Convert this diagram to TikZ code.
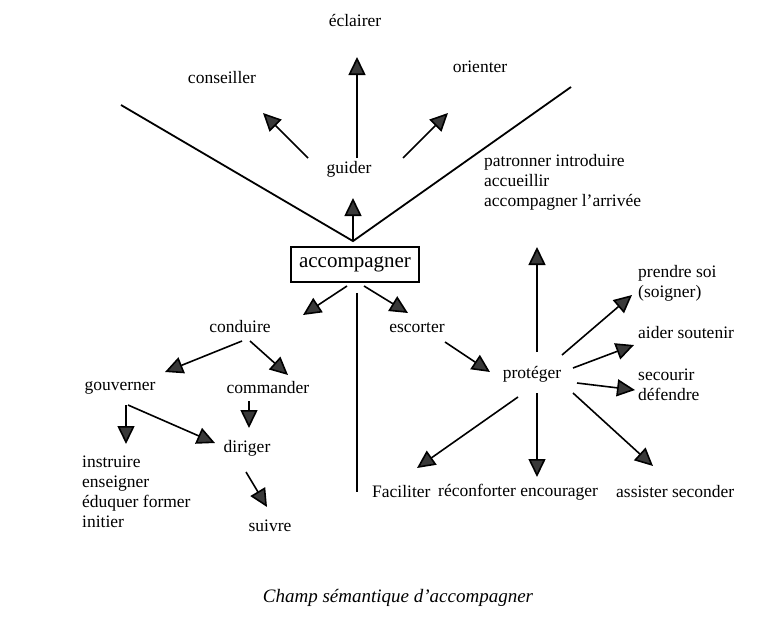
\documentclass[tikz,border=0pt]{standalone}
\usepackage{fontspec}
\setmainfont{Liberation Serif}
\usepackage{tikz}
\usetikzlibrary{positioning, arrows.meta}

\begin{document}
\begin{tikzpicture}[x=1pt, y=-1pt,
                lbl/.style={inner sep=1pt, font=\fontsize{17.5}{20}\selectfont},
                boite/.style={draw, line width=1.8pt, minimum width=128pt, minimum height=35pt, inner sep=0pt, font=\fontsize{21}{24}\selectfont},
                arr/.style={line width=1.6pt, -{Triangle[length=18pt, width=17pt, fill=gray!45!black]}},
                trait/.style={line width=1.8pt}]
                \useasboundingbox (0, 0) rectangle (784, 619);

                \node[boite] (acc) at (355, 264.5) {accompagner};
                \node[lbl] (eclairer) at (355, 20) {éclairer};
                \node[lbl] (conseiller) at (222, 78) {conseiller};
                \node[lbl] (orienter) at (480, 67) {orienter};
                \node[lbl] (guider) at (349, 169) {guider};
                \node[lbl, align=left, anchor=west] (patronner) at (483, 182) {patronner introduire\\accueillir\\accompagner l'arrivée};
                \node[lbl] (conduire) at (240, 327) {conduire};
                \node[lbl] (escorter) at (417, 328) {escorter};
                \node[lbl] (gouverner) at (120, 388) {gouverner};
                \node[lbl] (commander) at (268, 388) {commander};
                \node[lbl] (diriger) at (247, 448) {diriger};
                \node[lbl] (suivre) at (270, 526) {suivre};
                \node[lbl, align=left, anchor=west] (instruire) at (81, 492) {instruire\\enseigner\\éduquer former\\initier};
                \node[lbl] (proteger) at (532, 374) {protéger};
                \node[lbl, align=left, anchor=west] (prendre) at (637, 283) {prendre soi\\(soigner)};
                \node[lbl, anchor=west] (aider) at (637, 333) {aider soutenir};
                \node[lbl, align=left, anchor=west] (secourir) at (637, 385) {secourir\\défendre};
                \node[lbl, anchor=west] (faciliter) at (371, 492) {Faciliter};
                \node[lbl, anchor=west] (reconforter) at (437, 492) {réconforter encourager};
                \node[lbl, anchor=west] (assister) at (615, 492) {assister seconder};
                \node[font=\fontsize{19}{22}\selectfont\itshape] (titre) at (398, 598) {Champ sémantique d'accompagner};

                \coordinate (sommet) at ([shift={(-2, -5)}]acc.north);
                \coordinate (vgauche) at (121, 105);
                \coordinate (vdroite) at (571, 87);
                \coordinate (bas) at (357, 492);

                \draw[trait] (vgauche) -- (sommet) -- (vdroite);
                \draw[trait] ([shift={(2, 10)}]acc.south) -- (bas);
                \draw[arr] (sommet) -- ([shift={(4, 29)}]guider.center);
                \draw[arr] ([shift={(8, -11)}]guider.center) -- ([shift={(2, 37)}]eclairer.center);
                \draw[arr] ([shift={(-41, -11)}]guider.center) -- ([shift={(41, 35)}]conseiller.center);
                \draw[arr] ([shift={(54, -11)}]guider.center) -- ([shift={(-32, 46)}]orienter.center);
                \draw[arr] ([shift={(-8, 21.5)}]acc.center) -- ([shift={(63, -12)}]conduire.center);
                \draw[arr] ([shift={(9, 21.5)}]acc.center) -- ([shift={(-9, -15)}]escorter.center);
                \draw[arr] ([shift={(2, 14)}]conduire.center) -- ([shift={(45, -16)}]gouverner.center);
                \draw[arr] ([shift={(10, 14)}]conduire.center) -- ([shift={(20, -13)}]commander.center);
                \draw[arr] ([shift={(-19, 13)}]commander.center) -- ([shift={(2, -20)}]diriger.center);
                \draw[arr] ([shift={(6, 17)}]gouverner.center) -- ([shift={(45, -48)}]instruire.west);
                \draw[arr] ([shift={(8, 17)}]gouverner.center) -- ([shift={(-32, -5)}]diriger.center);
                \draw[arr] ([shift={(-1, 24)}]diriger.center) -- ([shift={(-3, -19)}]suivre.center);
                \draw[arr] ([shift={(28, 14)}]escorter.center) -- ([shift={(-42, -2)}]proteger.center);
                \draw[arr] ([shift={(5, -22)}]proteger.center) -- ([shift={(54, 65)}]patronner.west);
                \draw[arr] ([shift={(30, -19)}]proteger.center) -- ([shift={(-5, 12)}]prendre.west);
                \draw[arr] ([shift={(41, -6)}]proteger.center) -- ([shift={(-3, 12)}]aider.west);
                \draw[arr] ([shift={(45, 9)}]proteger.center) -- ([shift={(-2, 5)}]secourir.west);
                \draw[arr] ([shift={(-14, 23)}]proteger.center) -- ([shift={(46, -24)}]faciliter.west);
                \draw[arr] ([shift={(5, 19)}]proteger.center) -- ([shift={(100, -15)}]reconforter.west);
                \draw[arr] ([shift={(41, 19)}]proteger.center) -- ([shift={(38, -26)}]assister.west);
            \end{tikzpicture}
\end{document}
